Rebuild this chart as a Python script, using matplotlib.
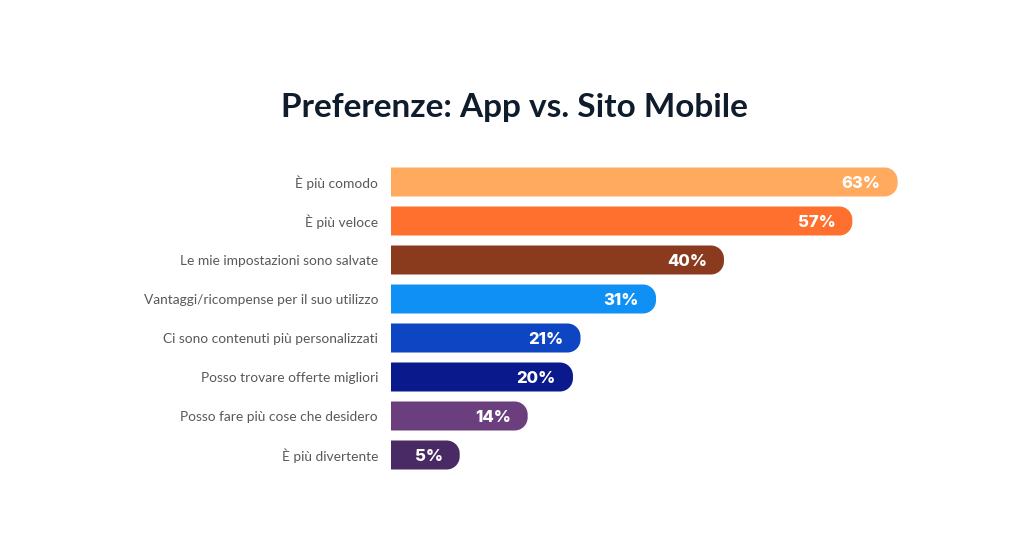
import matplotlib
matplotlib.use("Agg")
import matplotlib.pyplot as plt
from matplotlib.patches import PathPatch
from matplotlib.path import Path

categories = [
    "È più comodo",
    "È più veloce",
    "Le mie impostazioni sono salvate",
    "Vantaggi/ricompense per il suo utilizzo",
    "Ci sono contenuti più personalizzati",
    "Posso trovare offerte migliori",
    "Posso fare più cose che desidero",
    "È più divertente",
]
values = [63, 57, 40, 31, 21, 20, 14, 5]
colors = ["#FFAA5F", "#FF6F2D", "#8A3B1E", "#0F90F5", "#0E45C3", "#0A1A8C", "#6B3F7E", "#4A2A64"]

W, H, DPI = 1027, 544, 100
fig = plt.figure(figsize=(W / DPI, H / DPI), dpi=DPI)
fig.patch.set_facecolor("white")

ax_l, ax_r, ax_t, ax_b = 391, 1000, 150, 490
ax = fig.add_axes([ax_l / W, 1 - ax_b / H, (ax_r - ax_l) / W, (ax_b - ax_t) / H])
PAD = 4.1
px_per_x = 7.55
xmax = -PAD + (ax_r - ax_l) / px_per_x
ax.set_xlim(-PAD, xmax)
row_px = 39.0
ytop = -32 / row_px
ybot = ytop + (ax_b - ax_t) / row_px
ax.set_ylim(ybot, ytop)
ax.axis("off")

bh = 29 / row_px
r_px = 13
rx = r_px / px_per_x
ry = r_px / row_px
K = 0.5523


def bar_path(x0, x1, y0, y1):
    verts = [
        (x0, y0),
        (x1 - rx, y0),
        (x1 - rx + K * rx, y0), (x1, y0 + ry - K * ry), (x1, y0 + ry),
        (x1, y1 - ry),
        (x1, y1 - ry + K * ry), (x1 - rx + K * rx, y1), (x1 - rx, y1),
        (x0, y1),
        (x0, y0),
    ]
    codes = [Path.MOVETO, Path.LINETO,
             Path.CURVE4, Path.CURVE4, Path.CURVE4,
             Path.LINETO,
             Path.CURVE4, Path.CURVE4, Path.CURVE4,
             Path.LINETO, Path.CLOSEPOLY]
    return Path(verts, codes)


for i, (cat, v, c) in enumerate(zip(categories, values, colors)):
    ax.add_patch(PathPatch(bar_path(-PAD, v, i - bh / 2, i + bh / 2),
                           facecolor=c, edgecolor="none"))
    ax.text(v - 17 / px_per_x, i, f"{v}%", ha="right", va="center_baseline",
            color="white", fontsize=12, fontweight="heavy", family="Inter")
    ax.text(-PAD - 13 / px_per_x, i, cat, ha="right", va="center_baseline",
            color="#595959", fontsize=9.9, family="Lato", clip_on=False)

fig.text(514 / W, 1 - 107 / H, "Preferenze: App vs. Sito Mobile", ha="center", va="center",
         fontsize=24, fontweight="bold", family="Lato", color="#0E1C2B")

fig.savefig("out.png", dpi=DPI, facecolor="white")
